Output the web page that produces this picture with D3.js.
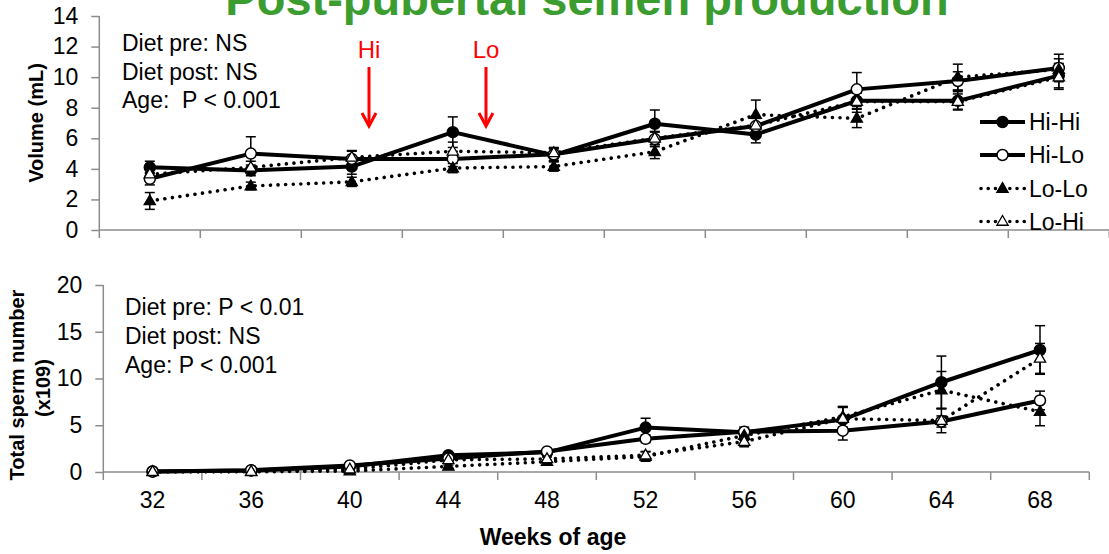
<!DOCTYPE html>
<html>
<head>
<meta charset="utf-8">
<script src="https://cdn.jsdelivr.net/npm/d3@7"></script>
<style>
  html, body { margin: 0; padding: 0; background: #fff; }
  svg { display: block; font-family: "Liberation Sans", Arial, sans-serif; }
</style>
</head>
<body>
<svg id="chart" width="1109" height="554"></svg>
<script>
// Weeks of age (category axis shared by both panels)
const weeks = [32, 36, 40, 44, 48, 52, 56, 60, 64, 68];
const groups = ["Hi-Hi", "Hi-Lo", "Lo-Lo", "Lo-Hi"];

// Semen volume (mL), mean and SE per group
const volHiHi = [4.1, 3.9, 4.15, 6.4, 4.9, 6.95, 6.25, 8.45, 8.45, 10.1];
const volHiLo = [3.35, 5.0, 4.65, 4.65, 4.95, 5.95, 6.8, 9.2, 9.75, 10.6];
const volLoLo = [1.9, 2.88, 3.15, 4.05, 4.15, 5.12, 7.55, 7.3, 10.0, 10.5];
const volLoHi = [3.65, 4.1, 4.75, 5.15, 5.05, 6.0, 6.85, 8.4, 8.4, 10.0];
const volSeHiHi = [0.4, 0.35, 0.5, 1.0, 0.4, 0.9, 0.55, 0.5, 0.6, 0.8];
const volSeHiLo = [0.4, 1.1, 0.5, 0.5, 0.4, 0.5, 0.5, 1.1, 0.6, 0.9];
const volSeLoLo = [0.55, 0.25, 0.3, 0.3, 0.3, 0.45, 0.95, 0.6, 0.85, 0.7];
const volSeLoHi = [0.4, 0.4, 0.45, 0.6, 0.35, 0.4, 0.5, 0.7, 0.5, 0.8];

// Total sperm number (x10^9), mean and SE per group
const spHiHi = [0.05, 0.15, 0.6, 1.8, 2.1, 4.75, 4.25, 5.6, 9.6, 13.05];
const spHiLo = [0.05, 0.2, 0.7, 1.45, 2.2, 3.55, 4.3, 4.42, 5.4, 7.65];
const spLoLo = [0.02, 0.02, 0.1, 0.6, 1.1, 1.65, 3.9, 5.9, 8.75, 6.45];
const spLoHi = [0.03, 0.05, 0.3, 1.3, 1.4, 1.8, 3.25, 5.7, 5.5, 12.15];
const spSeHiHi = [0.05, 0.05, 0.15, 0.25, 0.2, 1.0, 0.4, 1.3, 2.8, 2.6];
const spSeHiLo = [0.05, 0.05, 0.15, 0.2, 0.2, 0.4, 0.5, 1.0, 0.6, 1.0];
const spSeLoLo = [0.02, 0.02, 0.05, 0.15, 0.15, 0.5, 0.5, 1.1, 2.0, 1.5];
const spSeLoHi = [0.02, 0.03, 0.1, 0.2, 0.2, 0.4, 0.55, 1.3, 1.3, 1.6];

const volTicks = [0, 2, 4, 6, 8, 10, 12, 14];
const spTicks = [0, 5, 10, 15, 20];

const statsVolume = ["Diet pre: NS", "Diet post: NS", "Age:  P < 0.001"];
const statsSperm = ["Diet pre: P < 0.01", "Diet post: NS", "Age: P < 0.001"];

// Visual style per group: solid lines for Hi-*, dotted for Lo-*
const styles = {
  "Hi-Hi": { dotted: false, shape: "circle", fill: "#000" },
  "Hi-Lo": { dotted: false, shape: "circle", fill: "#fff" },
  "Lo-Lo": { dotted: true, shape: "triangle", fill: "#000" },
  "Lo-Hi": { dotted: true, shape: "triangle", fill: "#fff" }
};

const svg = d3.select("#chart");
const AXIS = "#8c8c8c";
const FONT = "'Liberation Sans', Arial, sans-serif";

function drawMarker(g, shape, fill, cx, cy) {
  if (shape === "circle") {
    g.append("circle").attr("cx", cx).attr("cy", cy).attr("r", 5.5)
      .attr("fill", fill).attr("stroke", "#000").attr("stroke-width", 1.5);
  } else {
    g.append("path").attr("d", d3.symbol(d3.symbolTriangle, 55)())
      .attr("transform", `translate(${cx},${cy + 0.5})`)
      .attr("fill", fill).attr("stroke", "#000").attr("stroke-width", 1.3);
  }
}

function panel(opts) {
  const x = d3.scaleBand().domain(weeks).range([opts.x0, opts.x1]);
  const y = d3.scaleLinear().domain([0, opts.yMax]).range([opts.yBase, opts.yTop]);
  const cx = w => x(w) + x.bandwidth() / 2;
  const g = svg.append("g");

  // y axis
  const ya = g.append("g").attr("transform", `translate(${opts.x0},0)`)
    .call(d3.axisLeft(y).tickValues(opts.ticks).tickSize(8).tickPadding(13));
  ya.selectAll("path, line").attr("stroke", AXIS).attr("stroke-width", 1.5);
  ya.select(".domain").attr("d", `M0,${opts.yBase}V${opts.yTop}`);
  ya.selectAll("text").attr("font-family", FONT).attr("font-size", 23).attr("fill", "#000");

  // x axis: ticks at category boundaries
  const xa = g.append("g").attr("transform", `translate(0,${opts.yBase})`);
  xa.append("line").attr("x1", opts.x0).attr("x2", opts.x1)
    .attr("stroke", AXIS).attr("stroke-width", 1.5);
  const bounds = weeks.map(w => x(w)).concat([opts.x1]);
  xa.selectAll("line.tk").data(bounds).join("line").attr("class", "tk")
    .attr("x1", d => d).attr("x2", d => d).attr("y1", 0).attr("y2", 8)
    .attr("stroke", AXIS).attr("stroke-width", 1.5);
  if (opts.labels) {
    xa.selectAll("text").data(weeks).join("text")
      .attr("x", w => cx(w)).attr("y", 36).attr("text-anchor", "middle")
      .attr("font-family", FONT).attr("font-size", 23).text(w => w);
  }

  // stats text
  g.selectAll("text.stat").data(opts.stats).join("text").attr("class", "stat")
    .attr("x", opts.statX).attr("y", (d, i) => opts.statY + i * opts.statDy)
    .attr("font-family", FONT).attr("font-size", 23).attr("xml:space", "preserve")
    .style("white-space", "pre").text(d => d);

  // series: error bars, lines, markers
  const line = d3.line().x((d, i) => cx(weeks[i])).y(d => y(d));
  opts.series.forEach(s => {
    const st = styles[s.name];
    const eg = g.append("g");
    s.values.forEach((v, i) => {
      const e = s.se[i];
      const px = cx(weeks[i]);
      eg.append("line").attr("x1", px).attr("x2", px).attr("y1", y(v - e)).attr("y2", y(v + e))
        .attr("stroke", "#000").attr("stroke-width", 1.5);
      [v - e, v + e].forEach(t => eg.append("line")
        .attr("x1", px - 5).attr("x2", px + 5).attr("y1", y(t)).attr("y2", y(t))
        .attr("stroke", "#000").attr("stroke-width", 1.5));
    });
    const p = g.append("path").attr("d", line(s.values)).attr("fill", "none")
      .attr("stroke", "#000").attr("stroke-linejoin", "round");
    if (st.dotted) p.attr("stroke-width", 3.6).attr("stroke-linecap", "round").attr("stroke-dasharray", "0.01 7.6");
    else p.attr("stroke-width", 4);
  });
  opts.series.forEach(s => {
    const st = styles[s.name];
    const mg = g.append("g");
    s.values.forEach((v, i) => drawMarker(mg, st.shape, st.fill, cx(weeks[i]), y(v)));
  });
  return { x, y };
}

// Title
svg.append("text").attr("x", 587).attr("y", 15).attr("text-anchor", "middle")
  .attr("font-family", FONT).attr("font-size", 47).attr("font-weight", "bold")
  .attr("fill", "#3b9c2f").text("Post-pubertal semen production");

// Upper panel: volume
panel({
  x0: 99.3, x1: 1109.3, yBase: 230, yTop: 16, yMax: 14, ticks: volTicks, labels: false,
  stats: statsVolume, statX: 122, statY: 51, statDy: 28.5,
  series: [
    { name: "Hi-Hi", values: volHiHi, se: volSeHiHi },
    { name: "Hi-Lo", values: volHiLo, se: volSeHiLo },
    { name: "Lo-Lo", values: volLoLo, se: volSeLoLo },
    { name: "Lo-Hi", values: volLoHi, se: volSeLoHi }
  ]
});

// Lower panel: total sperm number
panel({
  x0: 103.3, x1: 1089.3, yBase: 472, yTop: 285, yMax: 20, ticks: spTicks, labels: true,
  stats: statsSperm, statX: 125, statY: 315, statDy: 29,
  series: [
    { name: "Hi-Hi", values: spHiHi, se: spSeHiHi },
    { name: "Hi-Lo", values: spHiLo, se: spSeHiLo },
    { name: "Lo-Lo", values: spLoLo, se: spSeLoLo },
    { name: "Lo-Hi", values: spLoHi, se: spSeLoHi }
  ]
});

// Axis titles
svg.append("text").attr("transform", "translate(43,123) rotate(-90)")
  .attr("text-anchor", "middle").attr("font-family", FONT).attr("font-size", 20)
  .attr("font-weight", "bold").text("Volume (mL)");
svg.append("text").attr("transform", "translate(24,385) rotate(-90)")
  .attr("text-anchor", "middle").attr("font-family", FONT).attr("font-size", 20)
  .attr("font-weight", "bold").text("Total sperm number");
svg.append("text").attr("transform", "translate(50,388) rotate(-90)")
  .attr("text-anchor", "middle").attr("font-family", FONT).attr("font-size", 20)
  .attr("font-weight", "bold").text("(x109)");
svg.append("text").attr("x", 553).attr("y", 545).attr("text-anchor", "middle")
  .attr("font-family", FONT).attr("font-size", 23).attr("font-weight", "bold")
  .text("Weeks of age");

// Diet switch markers (red arrows)
const arrows = [{ label: "Hi", x: 369 }, { label: "Lo", x: 486 }];
arrows.forEach(a => {
  const ag = svg.append("g").attr("stroke", "#ff0000").attr("stroke-width", 3).attr("fill", "none");
  ag.append("line").attr("x1", a.x).attr("x2", a.x).attr("y1", 67).attr("y2", 126);
  ag.append("path").attr("d", `M${a.x - 7},${113}L${a.x},${126}L${a.x + 7},${113}`);
  svg.append("text").attr("x", a.x).attr("y", 58).attr("text-anchor", "middle")
    .attr("font-family", FONT).attr("font-size", 24).attr("fill", "#ff0000").text(a.label);
});

// Legend
const legY = [122, 155, 188.5, 221.5];
groups.forEach((name, i) => {
  const st = styles[name];
  const lg = svg.append("g");
  const ln = lg.append("line").attr("x1", 980).attr("x2", 1025).attr("y1", legY[i]).attr("y2", legY[i])
    .attr("stroke", "#000");
  if (st.dotted) ln.attr("x1", 981).attr("stroke-width", 3.6).attr("stroke-linecap", "round").attr("stroke-dasharray", "0.01 7.2");
  else ln.attr("stroke-width", 4);
  drawMarker(lg, st.shape, st.fill, 1002.5, legY[i]);
  lg.append("text").attr("x", 1029).attr("y", legY[i] + 8).attr("font-family", FONT)
    .attr("font-size", 23).text(name);
});
</script>
</body>
</html>
